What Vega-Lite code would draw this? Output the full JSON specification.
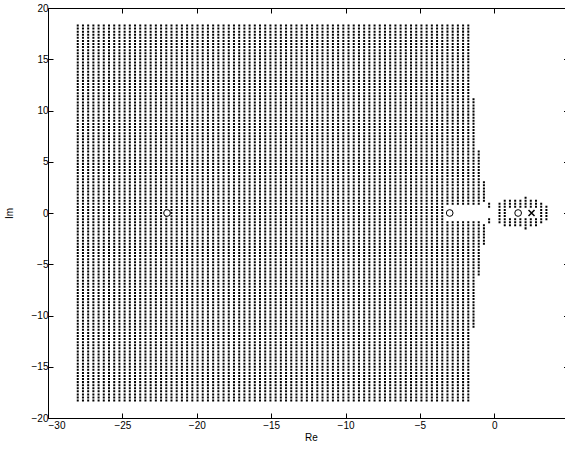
{
  "$schema": "https://vega.github.io/schema/vega-lite/v6.json",
  "width": 517,
  "height": 410,
  "autosize": "none",
  "padding": {"left": 48, "top": 8, "right": 0, "bottom": 32},
  "background": "white",
  "config": {
    "view": {"stroke": null},
    "axis": {
      "domainColor": "black", "tickColor": "black", "labelColor": "black", "titleColor": "black",
      "labelFont": "Liberation Sans", "titleFont": "Liberation Sans",
      "labelFontSize": 10, "titleFontSize": 10, "titleFontWeight": "normal",
      "grid": false, "domainWidth": 1, "tickWidth": 1
    }
  },
  "resolve": {"axis": {"x": "independent", "y": "independent"}},
  "layer": [
    {
      "data": {"values": [
        {"x": -28, "y1": -18.3, "y2": 18.3}, {"x": -27.65, "y1": -18.3, "y2": 18.3}, {"x": -27.3, "y1": -18.3, "y2": 18.3},
        {"x": -26.95, "y1": -18.3, "y2": 18.3}, {"x": -26.6, "y1": -18.3, "y2": 18.3}, {"x": -26.25, "y1": -18.3, "y2": 18.3},
        {"x": -25.9, "y1": -18.3, "y2": 18.3}, {"x": -25.55, "y1": -18.3, "y2": 18.3}, {"x": -25.2, "y1": -18.3, "y2": 18.3},
        {"x": -24.85, "y1": -18.3, "y2": 18.3}, {"x": -24.5, "y1": -18.3, "y2": 18.3}, {"x": -24.15, "y1": -18.3, "y2": 18.3},
        {"x": -23.8, "y1": -18.3, "y2": 18.3}, {"x": -23.45, "y1": -18.3, "y2": 18.3}, {"x": -23.1, "y1": -18.3, "y2": 18.3},
        {"x": -22.75, "y1": -18.3, "y2": 18.3}, {"x": -22.4, "y1": -18.3, "y2": 18.3}, {"x": -22.05, "y1": -18.3, "y2": 18.3},
        {"x": -21.7, "y1": -18.3, "y2": 18.3}, {"x": -21.35, "y1": -18.3, "y2": 18.3}, {"x": -21, "y1": -18.3, "y2": 18.3},
        {"x": -20.65, "y1": -18.3, "y2": 18.3}, {"x": -20.3, "y1": -18.3, "y2": 18.3}, {"x": -19.95, "y1": -18.3, "y2": 18.3},
        {"x": -19.6, "y1": -18.3, "y2": 18.3}, {"x": -19.25, "y1": -18.3, "y2": 18.3}, {"x": -18.9, "y1": -18.3, "y2": 18.3},
        {"x": -18.55, "y1": -18.3, "y2": 18.3}, {"x": -18.2, "y1": -18.3, "y2": 18.3}, {"x": -17.85, "y1": -18.3, "y2": 18.3},
        {"x": -17.5, "y1": -18.3, "y2": 18.3}, {"x": -17.15, "y1": -18.3, "y2": 18.3}, {"x": -16.8, "y1": -18.3, "y2": 18.3},
        {"x": -16.45, "y1": -18.3, "y2": 18.3}, {"x": -16.1, "y1": -18.3, "y2": 18.3}, {"x": -15.75, "y1": -18.3, "y2": 18.3},
        {"x": -15.4, "y1": -18.3, "y2": 18.3}, {"x": -15.05, "y1": -18.3, "y2": 18.3}, {"x": -14.7, "y1": -18.3, "y2": 18.3},
        {"x": -14.35, "y1": -18.3, "y2": 18.3}, {"x": -14, "y1": -18.3, "y2": 18.3}, {"x": -13.65, "y1": -18.3, "y2": 18.3},
        {"x": -13.3, "y1": -18.3, "y2": 18.3}, {"x": -12.95, "y1": -18.3, "y2": 18.3}, {"x": -12.6, "y1": -18.3, "y2": 18.3},
        {"x": -12.25, "y1": -18.3, "y2": 18.3}, {"x": -11.9, "y1": -18.3, "y2": 18.3}, {"x": -11.55, "y1": -18.3, "y2": 18.3},
        {"x": -11.2, "y1": -18.3, "y2": 18.3}, {"x": -10.85, "y1": -18.3, "y2": 18.3}, {"x": -10.5, "y1": -18.3, "y2": 18.3},
        {"x": -10.15, "y1": -18.3, "y2": 18.3}, {"x": -9.8, "y1": -18.3, "y2": 18.3}, {"x": -9.45, "y1": -18.3, "y2": 18.3},
        {"x": -9.1, "y1": -18.3, "y2": 18.3}, {"x": -8.75, "y1": -18.3, "y2": 18.3}, {"x": -8.4, "y1": -18.3, "y2": 18.3},
        {"x": -8.05, "y1": -18.3, "y2": 18.3}, {"x": -7.7, "y1": -18.3, "y2": 18.3}, {"x": -7.35, "y1": -18.3, "y2": 18.3},
        {"x": -7, "y1": -18.3, "y2": 18.3}, {"x": -6.65, "y1": -18.3, "y2": 18.3}, {"x": -6.3, "y1": -18.3, "y2": 18.3},
        {"x": -5.95, "y1": -18.3, "y2": 18.3}, {"x": -5.6, "y1": -18.3, "y2": 18.3}, {"x": -5.25, "y1": -18.3, "y2": 18.3},
        {"x": -4.9, "y1": -18.3, "y2": 18.3}, {"x": -4.55, "y1": -18.3, "y2": 18.3}, {"x": -4.2, "y1": -18.3, "y2": 18.3},
        {"x": -3.85, "y1": -18.3, "y2": 18.3}, {"x": -3.5, "y1": -18.3, "y2": 18.3},
        {"x": -3.15, "y1": 0.9, "y2": 18.3}, {"x": -3.15, "y1": -18.3, "y2": -0.9},
        {"x": -2.8, "y1": 0.9, "y2": 18.3}, {"x": -2.8, "y1": -18.3, "y2": -0.9},
        {"x": -2.45, "y1": 0.9, "y2": 18.3}, {"x": -2.45, "y1": -18.3, "y2": -0.9},
        {"x": -2.1, "y1": 0.9, "y2": 18.3}, {"x": -2.1, "y1": -18.3, "y2": -0.9},
        {"x": -1.75, "y1": 0.9, "y2": 18.3}, {"x": -1.75, "y1": -18.3, "y2": -0.9},
        {"x": -1.4, "y1": 0.9, "y2": 11.1}, {"x": -1.4, "y1": -11.1, "y2": -0.9},
        {"x": -1.05, "y1": 0.9, "y2": 6}, {"x": -1.05, "y1": -6, "y2": -0.9},
        {"x": -0.7, "y1": 1.2, "y2": 3}, {"x": -0.7, "y1": -3, "y2": -1.2},
        {"x": -0.35, "y1": 0.6, "y2": 0.9}, {"x": -0.35, "y1": -0.9, "y2": -0.6},
        {"x": 0.35, "y1": -0.9, "y2": 0.9},
        {"x": 0.7, "y1": -1.2, "y2": 1.2},
        {"x": 1.05, "y1": 0.6, "y2": 1.2}, {"x": 1.05, "y1": -1.2, "y2": -0.6},
        {"x": 1.4, "y1": 0.6, "y2": 1.2}, {"x": 1.4, "y1": -1.2, "y2": -0.6},
        {"x": 1.75, "y1": 0.6, "y2": 1.2}, {"x": 1.75, "y1": -1.2, "y2": -0.6},
        {"x": 2.1, "y1": 0.6, "y2": 1.5}, {"x": 2.1, "y1": -1.5, "y2": -0.6},
        {"x": 2.45, "y1": 0.6, "y2": 1.2}, {"x": 2.45, "y1": -1.2, "y2": -0.6},
        {"x": 2.8, "y1": 0.6, "y2": 1.2}, {"x": 2.8, "y1": -1.2, "y2": -0.6},
        {"x": 3.15, "y1": -0.9, "y2": 0.9},
        {"x": 3.5, "y1": -0.6, "y2": 0.6}
      ]},
      "mark": {"type": "rule", "color": "black", "strokeWidth": 2, "strokeDash": [0.01, 3.064], "strokeCap": "square"},
      "encoding": {
        "x": {"field": "x", "type": "quantitative",
          "scale": {"domain": [-30, 4.75], "nice": false, "zero": false},
          "axis": {"orient": "bottom", "values": [-30, -25, -20, -15, -10, -5, 0], "title": "Re",
            "tickSize": -5, "labelPadding": 7, "titleX": 263, "titleY": 22, "titleBaseline": "alphabetic", "titleAlign": "center"}},
        "y": {"field": "y1", "type": "quantitative",
          "scale": {"domain": [-20, 20], "nice": false, "zero": false},
          "axis": {"orient": "left", "values": [-20, -15, -10, -5, 0, 5, 10, 15, 20], "title": "Im",
            "tickSize": -5, "labelPadding": 5, "titleX": -36, "titleY": 205, "titleAngle": -90, "titleBaseline": "alphabetic", "titleAlign": "center"}},
        "y2": {"field": "y2"}
      }
    },
    {
      "data": {"values": [{"x": -22, "y": 0}, {"x": -3, "y": 0}, {"x": 1.6, "y": 0}]},
      "mark": {"type": "point", "shape": "circle", "size": 45, "filled": true, "fill": "white", "stroke": "black", "strokeWidth": 1, "opacity": 1},
      "encoding": {
        "x": {"field": "x", "type": "quantitative",
          "scale": {"domain": [-30, 4.75], "nice": false, "zero": false},
          "axis": {"orient": "top", "values": [-30, -25, -20, -15, -10, -5, 0], "labels": false, "title": null, "tickSize": -5}},
        "y": {"field": "y", "type": "quantitative",
          "scale": {"domain": [-20, 20], "nice": false, "zero": false},
          "axis": {"orient": "right", "values": [-20, -15, -10, -5, 0, 5, 10, 15, 20], "labels": false, "title": null, "tickSize": -1.5, "domain": false}}
      }
    },
    {
      "data": {"values": [{"x": 2.5, "y": 0}]},
      "mark": {"type": "point", "shape": "M-1,-1L1,1M-1,1L1,-1", "size": 36, "filled": false, "stroke": "black", "strokeWidth": 1.5, "opacity": 1},
      "encoding": {
        "x": {"field": "x", "type": "quantitative", "scale": {"domain": [-30, 4.75], "nice": false, "zero": false}, "axis": null},
        "y": {"field": "y", "type": "quantitative", "scale": {"domain": [-20, 20], "nice": false, "zero": false}, "axis": null}
      }
    }
  ]
}
